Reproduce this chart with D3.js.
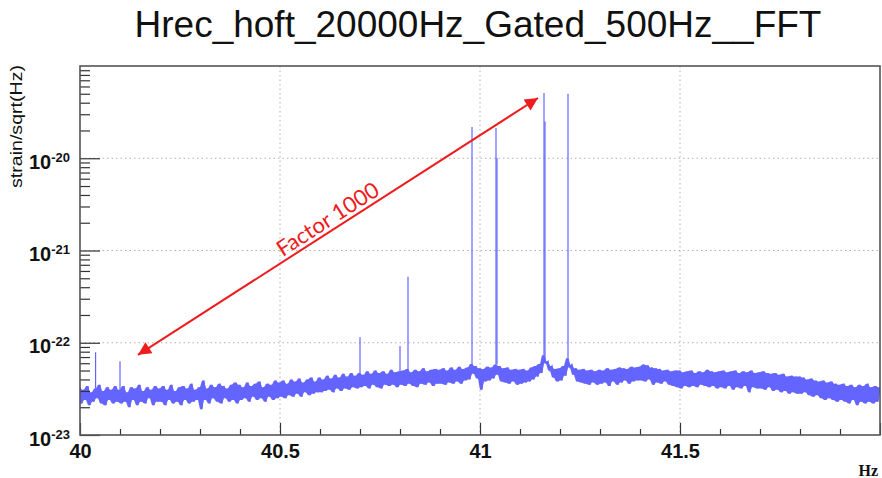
<!DOCTYPE html>
<html><head><meta charset="utf-8">
<script src="https://cdn.jsdelivr.net/npm/d3@7"></script>
<style>body{margin:0;background:#fff}</style>
</head><body><svg id="c" width="882" height="478"></svg>
<script>
const chartTitle = "Hrec_hoft_20000Hz_Gated_500Hz__FFT";
const yTitle = "strain/sqrt(Hz)";
const xTitle = "Hz";
// noise spectrum: bins from 40 Hz in 0.005 Hz steps, values in units of 1e-23 strain/sqrt(Hz)
const fStart = 40, fStep = 0.005, noiseUnit = 1e-23;
const noise = [
3.3,2.2,3.1,2.4,3.4,2.1,2.9,2.3,3.2,2.5,3.5,2.2,3.0,2.1,3.3,2.4,3.1,2.2,3.4,2.3,
3.1,2.2,3.4,2.3,2.9,2.0,3.3,2.4,3.2,2.1,3.5,2.3,3.0,2.2,3.3,2.5,3.1,2.1,3.4,2.3,
3.2,2.3,3.4,2.1,3.1,2.4,3.5,2.2,3.0,2.3,3.3,2.1,3.4,2.4,3.2,2.2,3.6,2.3,3.1,2.4,
3.3,1.9,3.9,2.4,3.2,2.2,3.5,2.5,3.3,2.3,3.6,2.2,3.4,2.5,3.2,2.3,3.5,2.4,3.7,2.2,
3.5,2.4,3.3,2.5,3.7,2.3,3.4,2.6,3.6,2.4,3.8,2.5,3.3,2.3,3.6,2.6,3.5,2.4,3.9,2.5,
3.7,2.6,3.9,2.5,3.6,2.7,4.0,2.6,3.8,2.8,4.1,2.6,3.7,2.9,4.0,2.7,4.2,2.8,3.8,2.9,
4.2,2.9,4.0,3.0,4.4,3.1,4.1,2.9,4.5,3.2,4.2,3.0,4.6,3.2,4.3,3.1,4.7,3.3,4.4,3.2,
4.7,3.3,4.5,3.4,4.9,3.2,4.6,3.5,5.0,3.3,4.7,3.2,4.9,3.5,4.6,3.4,5.1,3.5,4.8,3.3,
4.9,3.5,5.0,3.4,5.2,3.6,4.8,3.4,5.1,3.3,4.9,3.6,5.3,3.5,4.9,3.7,5.1,3.4,5.2,3.6,
5.1,3.6,5.3,3.5,5.0,3.7,5.4,3.6,5.1,3.8,5.5,3.6,5.2,3.9,5.4,4.0,5.9,4.6,5.6,4.1,
5.3,3.1,5.2,3.8,5.5,3.9,5.4,4.1,5.8,4.5,5.6,3.8,5.3,3.7,5.4,3.6,5.1,3.8,5.2,3.5,
5.1,3.6,5.2,3.7,5.0,3.8,5.4,4.0,5.6,4.3,5.9,4.7,7.3,6.0,6.3,5.0,5.6,4.2,5.2,3.8,
5.3,3.9,5.6,4.4,6.8,5.4,5.8,4.5,5.3,3.8,5.1,3.7,5.2,3.6,5.0,3.5,5.1,3.7,4.9,3.5,
5.1,3.6,5.0,3.7,5.3,3.4,5.1,3.8,5.2,3.5,5.4,3.7,5.3,3.9,5.2,3.6,5.5,3.8,5.4,3.9,
5.5,3.9,5.8,3.8,5.7,4.0,5.4,3.5,5.3,3.7,5.2,3.6,5.0,3.8,5.1,3.5,4.9,3.4,5.0,3.3,
5.0,3.2,4.8,3.4,4.9,3.3,5.0,3.4,4.7,3.3,4.9,3.5,4.8,3.4,5.1,3.3,4.9,3.4,4.8,3.2,
4.9,3.3,5.0,3.2,4.8,3.4,4.9,3.1,5.0,3.3,4.7,3.2,4.9,3.4,4.8,2.9,5.0,3.3,4.7,3.2,
4.8,3.2,4.9,3.1,4.7,3.3,4.6,3.0,4.7,3.1,4.5,2.9,4.6,3.0,4.3,2.8,4.4,2.9,4.3,2.8,
4.3,2.8,4.2,2.9,4.0,2.7,4.1,2.6,3.9,2.7,3.8,2.5,3.9,2.4,3.7,2.5,3.8,2.4,3.6,2.3,
3.5,2.4,3.6,2.3,3.4,2.2,3.5,2.4,3.3,2.1,3.5,2.3,3.4,2.2,3.6,2.3,3.3,2.2,3.4,2.3,
3.3
];
// narrow spectral lines (Hz, strain/sqrt(Hz))
const peakFreq = [40.039, 40.10, 40.70, 40.80, 40.82, 40.98, 41.04, 41.16, 41.22];
const peakAmp  = [7.9e-23, 6.3e-23, 1.15e-22, 9.2e-23, 5.2e-22, 2.18e-20, 2.13e-20, 5.1e-20, 5.0e-20];
const shoulderFreq = [41.0425, 41.1625];
const shoulderAmp  = [1.0e-20, 2.5e-20];
const xMajorTicks = [40, 40.5, 41, 41.5, 42];
const xLabelTicks = [40, 40.5, 41, 41.5];
const yMajorTicks = [1e-23, 1e-22, 1e-21, 1e-20];
const yLabelExp = ["-23", "-22", "-21", "-20"];
const arrowFrom = [40.145, 7.4e-23], arrowTo = [41.145, 4.5e-20];
const arrowLabel = "Factor 1000";

const svg = d3.select('#c');
const L = 80, R = 880, T = 66, B = 435;
const x = d3.scaleLinear().domain([40, 42]).range([L, R]);
const y = d3.scaleLog().domain([1e-23, 1e-19]).range([B, T]);

// title
svg.append('text').attr('x', 478).attr('y', 37).attr('text-anchor', 'middle')
  .attr('font-family', 'Liberation Sans, Arial, sans-serif').attr('font-size', 37)
  .attr('fill', '#111').text(chartTitle);

// grid
const gridX = [40.5, 41, 41.5], gridY = [1e-22, 1e-21, 1e-20];
svg.append('g').selectAll('line').data(gridX).join('line')
  .attr('x1', d => x(d)).attr('x2', d => x(d)).attr('y1', T).attr('y2', B)
  .attr('stroke', '#b0b0b0').attr('stroke-width', 1).attr('stroke-dasharray', '1.5,3');
svg.append('g').selectAll('line').data(gridY).join('line')
  .attr('y1', d => y(d)).attr('y2', d => y(d)).attr('x1', L).attr('x2', R)
  .attr('stroke', '#b0b0b0').attr('stroke-width', 1).attr('stroke-dasharray', '1.5,3');

svg.append('defs').append('clipPath').attr('id', 'clip').append('rect')
  .attr('x', L).attr('y', T).attr('width', R - L).attr('height', B - T);

const plot = svg.append('g').attr('clip-path', 'url(#clip)');
const color = '#6464ff';
const pts = noise.map((v, i) => [fStart + i * fStep, v * noiseUnit]);
// the dense bins fill the band between neighbouring values
const band = noise.map((v, i) => {
  const w = noise[Math.min(i + 1, noise.length - 1)];
  return [fStart + i * fStep, Math.min(v, w) * noiseUnit, Math.max(v, w) * noiseUnit];
});
plot.append('path').datum(band)
  .attr('d', d3.area().x(d => x(d[0])).y0(d => y(d[1])).y1(d => y(d[2])))
  .attr('fill', color).attr('stroke', 'none');
plot.append('path').datum(pts)
  .attr('d', d3.line().x(d => x(d[0])).y(d => y(d[1])))
  .attr('fill', 'none').attr('stroke', color).attr('stroke-width', 1.2);

const baseAt = f => noise[Math.round((f - fStart) / fStep)] * noiseUnit;
plot.append('g').selectAll('line').data(peakFreq).join('line')
  .attr('x1', d => x(d)).attr('x2', d => x(d))
  .attr('y1', d => y(baseAt(d))).attr('y2', (d, i) => y(peakAmp[i]))
  .attr('stroke', color).attr('stroke-width', 1.2);
plot.append('g').selectAll('line').data(shoulderFreq).join('line')
  .attr('x1', d => x(d)).attr('x2', d => x(d))
  .attr('y1', d => y(baseAt(d))).attr('y2', (d, i) => y(shoulderAmp[i]))
  .attr('stroke', color).attr('stroke-width', 1.2);

// axes
const axisStyle = g => {
  g.select('.domain').remove();
  g.selectAll('.tick line').attr('stroke', '#333').attr('stroke-width', 1.2);
  g.selectAll('text').attr('font-family', 'Liberation Sans, Arial, sans-serif')
    .attr('font-weight', 'bold').attr('font-size', 20).attr('fill', '#111');
};
const xMinor = d3.range(0, 21).map(i => +(40 + i * 0.1).toFixed(1)).filter(v => !xMajorTicks.includes(v));
svg.append('g').attr('transform', `translate(0,${B})`)
  .call(d3.axisBottom(x).tickValues(xMinor).tickSize(-6).tickFormat('')).call(axisStyle);
svg.append('g').attr('transform', `translate(0,${B})`)
  .call(d3.axisBottom(x).tickValues(xMajorTicks).tickSize(-12).tickPadding(9)
    .tickFormat(d => xLabelTicks.includes(d) ? String(d) : '')).call(axisStyle);

const yMinor = y.ticks().filter(v => !yMajorTicks.some(m => Math.abs(m - v) / m < 1e-6) && Math.abs(v - 1e-19) / 1e-19 > 1e-6);
svg.append('g').attr('transform', `translate(${L},0)`)
  .call(d3.axisLeft(y).tickValues(yMinor).tickSize(-10).tickFormat('')).call(axisStyle);
const yAx = svg.append('g').attr('transform', `translate(${L},0)`)
  .call(d3.axisLeft(y).tickValues(yMajorTicks).tickSize(-20).tickPadding(10).tickFormat(() => ''))
  .call(axisStyle);
yAx.selectAll('.tick text').each(function (d, i) {
  const t = d3.select(this).attr('dy', null).attr('y', 10);
  t.append('tspan').text('10');
  t.append('tspan').attr('font-size', 13).attr('dy', -7).text(yLabelExp[i]);
});

// frame
svg.append('rect').attr('x', L).attr('y', T).attr('width', R - L).attr('height', B - T)
  .attr('fill', 'none').attr('stroke', '#555').attr('stroke-width', 1.6);

// axis titles
svg.append('text').attr('transform', `translate(22,65) rotate(-90)`).attr('text-anchor', 'end')
  .attr('font-family', 'Liberation Sans, Arial, sans-serif').attr('font-size', 17).attr('fill', '#111')
  .attr('textLength', 123).attr('lengthAdjust', 'spacingAndGlyphs')
  .text(yTitle);
svg.append('text').attr('x', 878).attr('y', 476).attr('text-anchor', 'end')
  .attr('font-family', 'Liberation Serif, Times New Roman, serif').attr('font-weight', 'bold')
  .attr('font-size', 16).attr('fill', '#111').text(xTitle);

// annotation arrow
const red = '#ee1c1c';
const mk = svg.select('defs').append('marker').attr('id', 'ah').attr('viewBox', '0 0 10 10')
  .attr('refX', 10).attr('refY', 5).attr('markerWidth', 17).attr('markerHeight', 13)
  .attr('markerUnits', 'userSpaceOnUse').attr('orient', 'auto-start-reverse');
mk.append('path').attr('d', 'M0,0L10,5L0,10z').attr('fill', red);
const p0 = [x(arrowFrom[0]), y(arrowFrom[1])], p1 = [x(arrowTo[0]), y(arrowTo[1])];
svg.append('line').attr('x1', p0[0]).attr('y1', p0[1]).attr('x2', p1[0]).attr('y2', p1[1])
  .attr('stroke', red).attr('stroke-width', 2)
  .attr('marker-start', 'url(#ah)').attr('marker-end', 'url(#ah)');
const dx = p1[0] - p0[0], dy = p1[1] - p0[1], len = Math.hypot(dx, dy);
const ang = Math.atan2(dy, dx) * 180 / Math.PI;
const ux = dx / len, uy = dy / len;
const t = 0.49, off = 4;
const tx = p0[0] + dx * t + uy * off, ty = p0[1] + dy * t - ux * off;
svg.append('text').attr('transform', `translate(${tx},${ty}) rotate(${ang})`)
  .attr('text-anchor', 'middle').attr('font-family', 'Lato, Open Sans, sans-serif')
  .attr('font-size', 22).attr('fill', red).text(arrowLabel);
</script></body></html>
